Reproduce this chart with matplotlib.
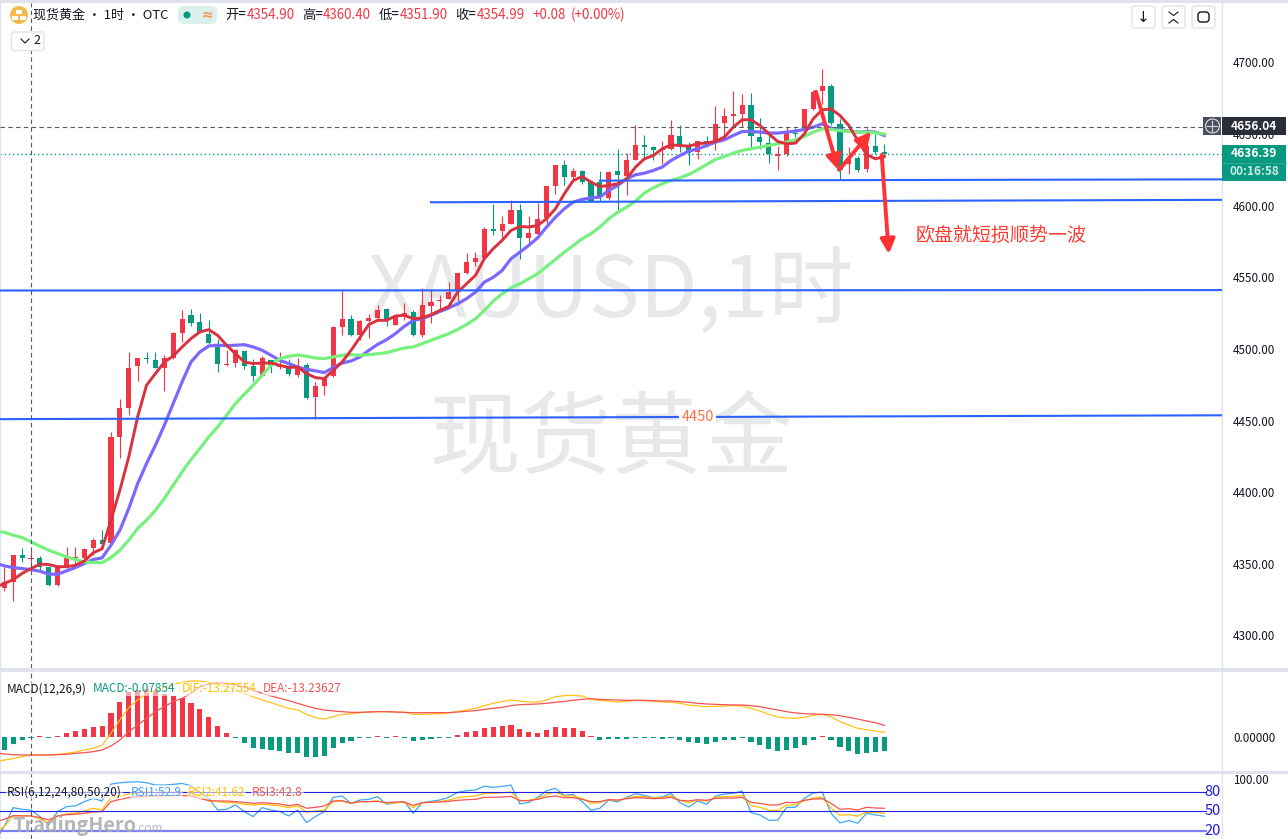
import numpy as np
import matplotlib
matplotlib.use("Agg")
import matplotlib.pyplot as plt
from matplotlib.patches import Rectangle, Circle, FancyBboxPatch

plt.rcParams['font.family'] = ['Noto Sans CJK SC', 'DejaVu Sans']

W, H = 1288, 839
RED = '#f23645'
GREEN = '#089981'
BAND = '#e0e3eb'
TXT = '#131722'

# hourly candles
opens = [4333.3,4337.4,4356,4353.5,4354.4,4348,4335,4348,4354,4354,
         4361,4366.5,4364.6,4438.6,4458.6,4488,4493.5,4492.6,4486.7,4494,
         4511,4524,4519,4510.7,4501.4,4489,4490,4498.4,4488,4481,
         4492.6,4487.5,4487.4,4481.6,4489,4466.5,4474,4481,4515.3,4520.7,
         4509.5,4519.3,4521.4,4527.6,4517,4523,4525.7,4509.5,4530,4533.5,
         4535,4540.4,4552.8,4560.4,4563.7,4583.4,4582.3,4587.4,4596.7,4577.4,
         4580.4,4591.6,4614.1,4628.1,4619.7,4623.9,4616.5,4616.5,4605.5,4623.9,
         4620.7,4631.6,4642.7,4640.7,4639,4639.7,4649,4642,4637.4,4645.3,
         4645,4657.6,4662.5,4663.7,4670,4648.3,4643.9,4635,4635.8,4651,
         4653.7,4667.2,4680,4683.3,4657.2,4629,4633.2,4625.3,4642,4637.7]
closes = [4337.4,4356,4354,4353.7,4348,4335,4348,4354,4355,4360.7,
          4366.5,4363.7,4438.6,4459,4487,4493.5,4493,4486.7,4494,4511,
          4521,4518,4511,4504,4489.5,4489.5,4499.5,4488,4481,4493.5,
          4489,4489,4482.3,4487.4,4466,4474,4480.5,4515,4520.7,4509.5,
          4519.3,4521.4,4527.4,4520.4,4523,4525.3,4509.5,4530.4,4533,4534.4,
          4540,4552.8,4560.4,4563.5,4583.4,4582,4587.4,4596.7,4577.4,4580.7,
          4590.9,4614.1,4628.1,4620,4623.9,4616.5,4603.2,4606,4623.4,4621.1,
          4631.6,4642.7,4640.9,4638.8,4639.5,4649.7,4642,4636.7,4645,4643.2,
          4657.2,4662.3,4664.1,4670,4649,4644.4,4635.8,4636,4651.4,4650,
          4667.2,4679.3,4683.3,4657.7,4624.7,4633.5,4625,4642,4637.7,4636.39]
highs = [4348,4356.5,4361,4359.5,4355.6,4348,4349,4362,4362,4361.4,
         4368,4373.5,4442,4465,4498,4493.5,4498,4498,4496,4511.5,
         4527,4528,4525,4520,4507,4499,4500,4498.4,4493,4495,
         4492.6,4498,4493,4494,4490,4477,4480.5,4516,4541,4524,
         4520,4524.6,4531,4528.6,4523.5,4532,4527,4542.8,4542,4537.4,
         4547,4552.8,4566.7,4567.6,4585,4600.9,4593,4603.7,4601.4,4592.5,
         4601.8,4614.1,4628.6,4631.6,4626.5,4625,4616.5,4624,4624,4639.7,
         4636.9,4656,4649.7,4642,4645.5,4659.5,4656,4644.4,4645.5,4648.6,
         4669.3,4668,4680.4,4678.1,4678.8,4661.4,4650.2,4641.4,4655,4654,
         4667.5,4680.8,4695.5,4685.1,4660.5,4640.9,4635,4654,4649.8,4642.8]
lows = [4331,4324,4351.4,4348,4345.6,4334.4,4334.4,4347,4349,4350,
        4356,4362,4364,4424,4454,4477.7,4490,4486.7,4471,4493,
        4505,4516,4511,4503.7,4484,4488,4487.4,4486,4477.4,4481,
        4483,4486,4481,4480.5,4465,4451,4468,4480.5,4509.5,4508.8,
        4506,4507.9,4519.5,4515.8,4517,4520,4508.8,4508.3,4518,4527.4,
        4534.6,4530.9,4552,4557.6,4563.7,4579.3,4575.8,4587,4563,4574,
        4579.3,4587,4608.3,4614.6,4618.8,4614.9,4602.5,4603.2,4604,4594.8,
        4607.2,4631.6,4632,4631.6,4629.3,4639,4637.4,4628.1,4632.3,4640.9,
        4638.6,4649,4654.8,4654.8,4639.7,4639.7,4629.7,4624.7,4635,4648,
        4653,4666.8,4671,4656,4618.6,4621.8,4623.4,4623.4,4636.3,4633.5]

# moving averages, first value sits at the left edge of the pane
ma_red = [4335,4336.3,4339,4343.3,4346.7,4349.8,4349.5,4348,4348,4349,4352,
          4357.7,4360.5,4380.5,4401.4,4424.7,4452.6,4474.7,4482.8,4490.9,4495.1,
          4501.4,4507.2,4511.9,4513.5,4509.5,4502.6,4496.7,4490.9,4489.8,4490.2,
          4490.2,4488.6,4487,4487.4,4482.8,4480,4479.3,4485.1,4490.9,4499,
          4508,4517,4520,4520,4523,4523.5,4521.1,4521.6,4523.9,4526.9,
          4529.7,4539.7,4545.5,4551.4,4563,4570,4575.8,4582.7,4585.5,4585.1,
          4586.2,4590.9,4597.9,4608.3,4617.6,4620.4,4616.5,4613.4,4614.1,4615.3,
          4618.8,4626.9,4632.7,4635,4639.7,4642.5,4642,4641.6,4643.2,4643.9,
          4644.8,4647.9,4654.8,4660,4660,4656,4650.2,4644.8,4643.2,4643.7,
          4650.2,4660.7,4666.9,4667.6,4663,4656,4645.5,4635.8,4632.7,4634.4]
ma_blue = [4349.5,4348.6,4347.4,4346.7,4346,4344.9,4342.8,4342.8,4345.1,4347.4,4350.2,
           4353,4354.2,4363,4373.5,4388.6,4406,4420,4432.8,4446.7,4461.9,
           4477,4490.9,4497.9,4502.1,4502.6,4502.3,4502.6,4503,4501.4,4499.1,
           4495.6,4492,4489.8,4487.4,4485.8,4484.7,4483.5,4487,4490.2,4491.6,
           4494.4,4499,4503.2,4506.5,4510.7,4515.8,4520,4521.1,4523.5,4526.2,
           4528.6,4531.6,4535.1,4539.7,4546.7,4550,4554.8,4563,4567.6,4572.3,
           4577.6,4585.1,4592,4597.9,4602.5,4604.4,4605.5,4606,4610.7,4614.1,
           4618.8,4621.6,4622.7,4624.6,4626.9,4631.6,4635,4638.1,4639.7,4642,
           4644.4,4646,4649,4651.8,4651.8,4651.4,4650.7,4650.7,4651.4,4652.1,
           4653.2,4654.8,4657.2,4654.1,4653,4652.1,4651.4,4651.8,4651.4,4649]
ma_green = [4372.3,4372.1,4370,4368.4,4365.3,4362.3,4359.5,4357.2,4354.9,4353,4351.4,
            4350.9,4350.9,4354.4,4359.5,4366.5,4374.7,4380.5,4387.4,4395.6,4404.9,
            4414.2,4422.8,4430.5,4438.6,4445.6,4453.7,4461.9,4468.4,4474.7,4481.6,
            4488.6,4493.3,4494.9,4495.8,4494.9,4493.7,4493.3,4494.4,4495.6,4496,
            4495.6,4496,4496.7,4497.4,4499.1,4500.7,4501.4,4503.7,4506,4508.4,
            4510.6,4513.6,4517.1,4521,4526.9,4533.4,4538.5,4542.7,4545.5,4549,
            4552.5,4557.6,4562.5,4567.6,4572.2,4576.9,4580.5,4585.1,4590.9,4595.5,
            4599,4603.2,4608.8,4612.5,4615.3,4617.6,4619.5,4621.8,4625.1,4628.8,
            4632.3,4634.4,4636.7,4638.6,4639.7,4640.9,4642,4643.2,4644.4,4646,
            4648.3,4651.4,4653.7,4653.2,4652.5,4651.8,4651.4,4651.4,4650.9,4650]

# MACD pane, heights (only the zero is labelled)
macd_hist = [-39,-21,-8,-3,3,-3,4,12,18,24,
             30,33,73,106,135,140,143,140,129,123,
             117,102,84,60,33,12,-3,-18,-33,-36,
             -39,-42,-48,-48,-60,-60,-57,-33,-18,-11,
             -3,-3,3,-3,3,-3,-12,-8,-5,-4,
             -3,6,14,18,27,30,33,36,24,15,
             12,21,30,27,27,18,3,-8,-7,-7,
             -5,-3,-3,-3,-5,-3,-8,-14,-17,-20,
             -15,-8,-8,-3,-15,-24,-36,-42,-39,-33,
             -24,-8,3,-8,-30,-42,-51,-48,-45,-42]
macd_dif = [-72,-69,-65,-59,-54,-54,-54,-52,-49,-45,-39,
            -34,-25,11,51,88,111,131,141,148,158,
            164,168,168,164,158,151,143,131,121,111,
            103,94,86,81,68,58,54,61,68,69,
            73,75,76,76,75,74,68,68,69,70,
            73,76,81,86,94,101,106,111,108,105,
            105,111,121,124,125,123,113,109,108,105,
            107,110,109,107,105,104,101,96,93,91,
            92,93,94,93,86,78,68,60,57,56,
            59,65,68,61,46,36,26,22,18,14]
macd_dea = [-49,-51,-53,-54,-54,-54,-54,-53,-52,-49,-47,
            -44,-39,-27,-9,16,36,56,76,91,106,
            116,131,151,159,163,161,157,149,141,131,
            123,116,109,101,93,86,81,78,76,74,
            74,75,76,76,75,74,73,73,73,73,
            73,75,77,79,83,86,89,94,97,98,
            99,101,104,107,110,113,115,113,112,111,
            110,110,110,109,108,108,106,104,101,99,
            98,97,96,96,94,91,86,81,76,72,
            70,69,68,67,64,59,54,48,43,35]

# RSI pane
rsi1 = [16.5,26.7,55.6,53,52,41.9,29.2,49.5,57.1,58.2,64.8,
        69.8,65.8,91.7,93.7,94.7,95.2,93.7,90.2,90.2,91.2,
        92.7,89.1,77.5,69.8,52,53,59.7,49.5,41.9,55.6,
        52,49.5,42.9,52,32.8,41.9,49.5,71.4,73.4,62.2,
        67.3,68.3,72.4,60.7,63.2,64.8,47,63.2,65.3,67.3,
        71.4,79,81.5,82.5,88.6,86.6,88.1,90.2,61.2,63.7,
        71.4,81.5,85.1,74.4,75.9,64.8,51.6,54.6,67.3,64.3,
        71.4,77,74.4,70.9,71.9,77.5,63.2,56.6,65.8,60.7,
        73.4,76.4,77.5,81,48,44.4,36.3,36.3,56.1,56.1,
        69.8,78,79.5,47,32.2,35.8,31.7,47,44.4,42.4]
rsi2 = [22.6,26.7,42.9,43.4,43.4,38.3,31.7,42.9,46,47,50.5,
        54.6,52,71.4,73.4,76.4,78.5,80,78.5,79,79,
        79.5,77.5,73.4,65.8,64.8,63.2,63.2,60.7,59.7,60.7,
        59.7,58.2,55.6,58.2,48.5,50.5,52,64.8,65.8,62.2,
        64.8,64.8,65.8,62.2,63.2,63.7,55.6,63.2,63.7,64.8,
        67.3,70.9,72.4,73.4,77.5,77.5,78.5,79.5,66.3,66.8,
        69.8,75.9,79.5,73.4,73.4,69.8,62.2,63.2,68.3,66.3,
        69.8,72.9,72.4,70.3,70.9,73.9,66.3,63.2,67.3,65.3,
        71.4,72.4,72.9,74.4,58.7,56.1,51.6,51,59.7,59.7,
        66.3,70.3,71.4,55.1,43.9,44.9,42.4,49,48,47]
rsi3 = [35.8,37.8,43.4,42.9,42.9,40.4,36.8,42.9,44.9,45.5,47,
        49,49.5,64.8,68.3,70.9,72.4,73.4,73.4,73.9,73.9,
        74.4,73.4,69.8,66.3,65.8,65.8,64.8,63.7,62.2,63.2,
        62.2,61.2,58.7,60.7,54.6,56.1,58.2,65.8,66.3,62.2,
        64.8,64.8,65.3,63.2,64.3,64.3,59.2,63.2,63.7,64.3,
        65.3,66.8,67.8,68.3,71.4,71.4,71.9,72.9,66.3,66.3,
        68.3,71.9,73.4,70.9,70.9,68.3,64.8,64.8,67.8,67.3,
        69.3,70.9,70.3,69.3,69.8,71.4,66.8,65.8,67.8,66.8,
        69.8,70.3,70.3,71.4,63.7,62.2,59.7,59.7,63.7,63.2,
        66.8,68.8,69.3,62.2,53,54,52,56.1,55.1,54.6]
rsi_levels = [80, 50, 20]

price_ticks = [4300, 4350, 4400, 4450, 4500, 4550, 4600, 4650, 4700]
last_price = 4636.39
cross_price = 4655
cross_bar = 3

# drawn trend lines: (bar, price) at each end
trend_lines = [((-0.48, 4451), (136.98, 4453.7)),
               ((-0.48, 4540.8), (136.98, 4541.1)),
               ((48, 4602.4), (136.98, 4604.1)),
               ((67, 4617.5), (136.98, 4618.4))]
# hand-drawn arrows: (from bar, from price, to bar, to price)
arrows = [(91.3, 4679.6, 93.8, 4625),
          (93.9, 4625, 97.5, 4651.7),
          (98.7, 4635.4, 99.5, 4566.3)]

bars = np.arange(len(opens))
line_x = np.concatenate(([-0.48], bars))
xlim = (-0.484, 136.98)

fig = plt.figure(figsize=(W / 100, H / 100), dpi=100, facecolor='white')


def pane(top, bottom):
    ax = fig.add_axes([0, 1 - bottom / H, 1222 / W, (bottom - top) / H])
    ax.set_xlim(*xlim)
    ax.set_xticks([])
    ax.yaxis.tick_right()
    ax.tick_params(axis='y', length=0, pad=8, labelsize=8.4, labelcolor=TXT)
    for side in ['top', 'bottom']:
        ax.spines[side].set_visible(False)
    for side in ['left', 'right']:
        ax.spines[side].set_color(BAND)
        ax.spines[side].set_linewidth(1)
    ax.axvline(cross_bar, color='#555a66', lw=0.8, dashes=(4, 3), zorder=6)
    return ax


# ---- price pane
ax = pane(3, 668)
ax.set_ylim(4277.3, 4741.5)
ax.set_yticks(price_ticks)
ax.set_yticklabels([f'{p:.2f}' for p in price_ticks])

ax.text(0.5, 0.564, 'XAUUSD,1时', transform=ax.transAxes, ha='center', va='center',
        fontsize=61, color='#e7e8ea', zorder=0)
ax.text(0.5, 0.342, '现货黄金', transform=ax.transAxes, ha='center', va='center',
        fontsize=65.5, color='#e7e8ea', zorder=0)

up = np.array(closes) >= np.array(opens)
colors = [RED if u else GREEN for u in up]
body_low = np.minimum(opens, closes)
body_h = np.maximum(np.abs(np.array(closes) - np.array(opens)), 0.8)
ax.vlines(bars, lows, highs, colors=colors, lw=0.8, zorder=2)
ax.bar(bars, body_h, bottom=body_low, width=0.58, color=colors, zorder=3)

ax.plot(line_x, ma_blue, color='#7b68ff', lw=2.3, zorder=4, solid_joinstyle='round')
ax.plot(line_x, ma_green, color='#78f07e', lw=2.3, zorder=4.1, solid_joinstyle='round')
ax.plot(line_x, ma_red, color='#d9323f', lw=2.1, zorder=4.2, solid_joinstyle='round')

for (x0, y0), (x1, y1) in trend_lines:
    ax.plot([x0, x1], [y0, y1], color='#2962ff', lw=1.5, zorder=5)
ax.text(78, 4452.6, '4450', color='#ff7043', fontsize=10.5, ha='center', va='center', zorder=5.5,
        bbox=dict(facecolor='white', edgecolor='none', pad=1.5))

ax.axhline(cross_price, xmax=1203 / 1222, color='#555a66', lw=0.8, dashes=(4, 3), zorder=6)
ax.axhline(last_price, color=GREEN, lw=1, dashes=(1, 2), zorder=1.5)

for x0, y0, x1, y1 in arrows:
    ax.annotate('', xy=(x1, y1), xytext=(x0, y0), zorder=7,
                arrowprops=dict(arrowstyle='-|>,head_width=0.29,head_length=0.58', color='#ff3336',
                                lw=2.8, shrinkA=0, shrinkB=0, mutation_scale=15))

ax.text(102.55, 4579.6, '欧盘就短损顺势一波', color='#ff3b30', fontsize=13.7, ha='left', va='center')

# ---- MACD pane
ax_m = pane(672, 771)
ax_m.set_ylim(-102, 195)
ax_m.set_yticks([0])
ax_m.set_yticklabels(['0.00000'])
ax_m.bar(bars, macd_hist, width=0.58, color=[RED if v > 0 else GREEN for v in macd_hist], zorder=2)
ax_m.plot(line_x, macd_dif, color='#ffc21a', lw=0.9, zorder=3)
ax_m.plot(line_x, macd_dea, color='#f55252', lw=0.9, zorder=3)

# ---- RSI pane
ax_r = pane(774, 839)
ax_r.set_ylim(7.6, 107.1)
ax_r.set_yticks([100])
ax_r.set_yticklabels(['100.00'])
ax_r.plot(line_x, rsi1, color='#42a5f5', lw=0.9, zorder=3)
ax_r.plot(line_x, rsi2, color='#ffc107', lw=0.9, zorder=3)
ax_r.plot(line_x, rsi3, color='#f55252', lw=0.9, zorder=3)
for level, col, lw in zip(rsi_levels, ['#2020e0', '#2020e0', '#7d7dff'], [1, 1, 2]):
    ax_r.axhline(level, xmax=1206 / 1222, color=col, lw=lw * 0.8, zorder=4)
    ax_r.text(1221 / 1222, level, str(level), transform=ax_r.get_yaxis_transform(), ha='right',
              va='center', color='#1a1ae6', fontsize=10.5, zorder=5)

# ---- chrome drawn in pixel coordinates on top
ov = fig.add_axes([0, 0, 1, 1], zorder=20)
ov.set_xlim(0, W)
ov.set_ylim(H, 0)
ov.axis('off')
ov.patch.set_alpha(0)

for y0, y1 in [(0, 3), (668, 672), (771, 774)]:
    ov.add_patch(Rectangle((0, y0), W, y1 - y0, color=BAND, lw=0))


def rbox(x0, y0, x1, y1, face='white', edge=BAND, r=3):
    ov.add_patch(FancyBboxPatch((x0 + r, y0 + r), x1 - x0 - 2 * r, y1 - y0 - 2 * r,
                                boxstyle=f'round,pad={r},rounding_size={r}',
                                facecolor=face, edgecolor=edge, lw=1))


# symbol header
ov.add_patch(Circle((19, 15), 9, color='#f2bb4e', lw=0))
for bx, by in [(16.5, 9.5), (12.5, 15.5), (20.5, 15.5)]:
    ov.add_patch(Rectangle((bx, by), 5.5, 4.5, color='white', lw=0))
ov.text(33, 15, '现货黄金 • 1时 • OTC', fontsize=9.4, color=TXT, va='center')
rbox(178, 6, 217, 24, face='#d9f0ec', edge='none', r=6)
ov.add_patch(Circle((187, 15), 3.5, color=GREEN, lw=0))
ov.text(207, 14.5, '≈', color='#ff8a50', fontsize=10, ha='center', va='center', weight='bold',
        family='DejaVu Sans')
ohlc_labels = [(225, '开='), (302, '高='), (379, '低='), (455.5, '收=')]
ohlc_values = [(247, '4354.90'), (323, '4360.40'), (400, '4351.90'), (476.7, '4354.99'),
               (532, '+0.08'), (570.6, '(+0.00%)')]
for x, s in ohlc_labels:
    ov.text(x, 15, s, fontsize=9.6, color=TXT, va='center')
for x, s in ohlc_values:
    ov.text(x, 15, s, fontsize=9.6, color=RED, va='center')

rbox(11.5, 32, 44, 50.5)
ov.plot([21, 25, 29], [39, 43, 39], color=TXT, lw=0.8)
ov.text(33, 41, '2', fontsize=9, color=TXT, va='center')

# buttons top right
for x0 in [1132, 1162, 1192]:
    rbox(x0, 6, x0 + 23, 28)
ov.text(1143.5, 17, '↓', fontsize=11, ha='center', va='center', color=TXT, family='DejaVu Sans')
ov.plot([1169, 1173.5, 1178], [12, 15.5, 12], color=TXT, lw=0.8)
ov.plot([1169, 1173.5, 1178], [23, 19.5, 23], color=TXT, lw=0.8)
rbox(1198, 12, 1209, 22, edge=TXT, r=3)

# price tags on the axis
ov.add_patch(Rectangle((1203, 117), 18.5, 18, color='#4a4e5a', lw=0))
ov.add_patch(Circle((1212.5, 126), 7, facecolor='none', edgecolor='#d1d4dc', lw=0.9))
ov.plot([1207.5, 1217.5], [126, 126], color='#d1d4dc', lw=0.9)
ov.plot([1212.5, 1212.5], [121, 131], color='#d1d4dc', lw=0.9)
ov.add_patch(Rectangle((1222, 117), 64, 18, color='#2a2e39', lw=0))
ov.text(1254, 126, '4656.04', color='white', fontsize=8.6, ha='center', va='center', weight='bold')
ov.add_patch(Rectangle((1222, 145), 64, 36, color=GREEN, lw=0))
ov.plot([1222, 1286], [163, 163], color='#35ad98', lw=0.7)
ov.text(1254, 153.5, '4636.39', color='white', fontsize=8.6, ha='center', va='center', weight='bold')
ov.text(1254, 171.5, '00:16:58', color='#c9ece6', fontsize=8.6, ha='center', va='center', weight='bold')

# indicator legends
white_back = dict(facecolor='white', edgecolor='none', alpha=0.55, pad=0.6)
for x, s, col in [(7, 'MACD(12,26,9)', TXT), (93, 'MACD:-0.07854', GREEN),
                  (182, 'DIF:-13.27554', '#ffc000'), (263, 'DEA:-13.23627', '#f55252')]:
    ov.text(x, 689, s, color=col, fontsize=8.5, va='center', bbox=white_back)
for x, s, col in [(7, 'RSI(6,12,24,80,50,20)', TXT), (131, 'RSI1:52.9', '#42a5f5'),
                  (188, 'RSI2:41.62', '#ffc000'), (252, 'RSI3:42.8', '#f55252')]:
    ov.text(x, 792, s, color=col, fontsize=8.5, va='center', bbox=white_back)

# site mark
ov.text(12, 825, 'TradingHero', color='#a9aaae', alpha=0.85, fontsize=14.3, weight='bold', va='center')
ov.text(135, 828, '.com', color='#a9aaae', alpha=0.85, fontsize=8.5, va='center')

fig.savefig('out.png', dpi=100)
